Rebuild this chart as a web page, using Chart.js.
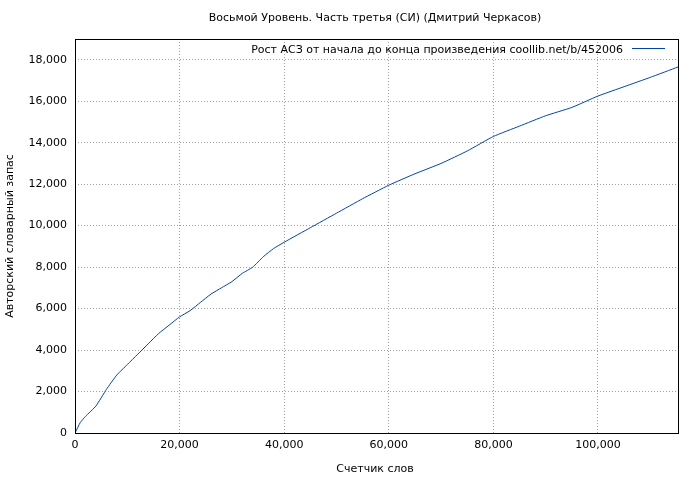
<!DOCTYPE html>
<html>
<head>
<meta charset="utf-8">
<script src="https://cdn.jsdelivr.net/npm/chart.js@4/dist/chart.umd.min.js"></script>
<style>body{margin:0;background:#fff}</style>
</head>
<body>
<canvas id="c" width="700" height="480"></canvas>
<script>
const words = [0, 1000, 2000, 4000, 6000, 8000, 10000, 12000, 14000, 16000, 18000, 20000, 22000, 24000, 26000, 28000, 30000, 32000, 34000, 36000, 38000, 40000, 45000, 50000, 55000, 60000, 65000, 70000, 75000, 80000, 85000, 90000, 95000, 100000, 105000, 110000, 115300];
const vocab = [0, 500, 800, 1300, 2100, 2800, 3300, 3800, 4300, 4800, 5200, 5600, 5900, 6300, 6700, 7000, 7300, 7700, 8000, 8500, 8900, 9200, 9900, 10600, 11300, 11950, 12500, 13000, 13600, 14300, 14800, 15300, 15700, 16250, 16700, 17150, 17650];
const xTicks = [0, 20000, 40000, 60000, 80000, 100000];
const yTicks = [0, 2000, 4000, 6000, 8000, 10000, 12000, 14000, 16000, 18000];
const titleText = "Восьмой Уровень. Часть третья (СИ) (Дмитрий Черкасов)";
const legendText = "Рост АСЗ от начала до конца произведения coollib.net/b/452006";
const xTitle = "Счетчик слов";
const yTitle = "Авторский словарный запас";

const font = "11px 'DejaVu Sans'";

// frame, titles and legend drawn on top
const decor = {
  id: "decor",
  afterDraw(chart) {
    const ctx = chart.ctx, a = chart.chartArea;
    ctx.save();
    ctx.strokeStyle = "#000";
    ctx.lineWidth = 1;
    ctx.strokeRect(a.left + 0.5, a.top + 0.5, a.right - a.left, a.bottom - a.top);
    ctx.fillStyle = "#000";
    ctx.font = font;
    ctx.textAlign = "center";
    ctx.textBaseline = "middle";
    ctx.fillText(titleText, 375, 18);
    ctx.fillText(xTitle, 375, 469);
    ctx.save();
    ctx.translate(10, 236);
    ctx.rotate(-Math.PI / 2);
    ctx.fillText(yTitle, 0, 0);
    ctx.restore();
    ctx.textAlign = "right";
    ctx.fillText(legendText, 623, 50);
    ctx.strokeStyle = "#0044aa";
    ctx.beginPath();
    ctx.moveTo(632, 48.5);
    ctx.lineTo(665, 48.5);
    ctx.stroke();
    ctx.restore();
  }
};

new Chart(document.getElementById("c"), {
  type: "line",
  data: {
    datasets: [{
      data: words.map((w, i) => ({ x: w, y: vocab[i] })),
      borderColor: "#0044aa",
      borderWidth: 1,
      pointRadius: 0,
      tension: 0.15,
      fill: false
    }]
  },
  options: {
    responsive: false,
    animation: false,
    layout: { padding: { top: 39, right: 22, left: 0, bottom: 0 } },
    plugins: { legend: { display: false }, tooltip: { enabled: false } },
    scales: {
      x: {
        type: "linear", min: 0, max: 115300,
        afterBuildTicks: s => { s.ticks = xTicks.map(v => ({ value: v })); },
        afterFit: s => { s.height = 47; },
        ticks: { color: "#000", font: { family: "DejaVu Sans", size: 11 }, maxRotation: 0, autoSkip: false, padding: 6 },
        grid: { color: "#a0a0a0", lineWidth: 1, drawTicks: false },
        border: { display: false, dash: [1, 2] }
      },
      y: {
        type: "linear", min: 0, max: 19000,
        afterBuildTicks: s => { s.ticks = yTicks.map(v => ({ value: v })); },
        afterFit: s => { s.width = 75; },
        ticks: { color: "#000", font: { family: "DejaVu Sans", size: 11 }, padding: 8, autoSkip: false },
        grid: { color: "#a0a0a0", lineWidth: 1, drawTicks: false },
        border: { display: false, dash: [1, 2] }
      }
    }
  },
  plugins: [decor]
});
</script>
</body>
</html>
